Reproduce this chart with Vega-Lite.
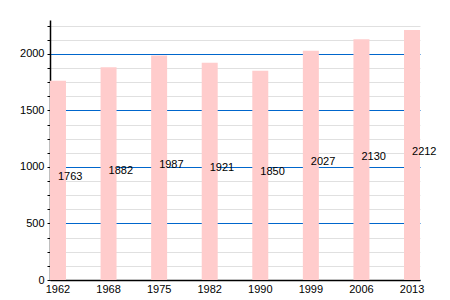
{
  "$schema": "https://vega.github.io/schema/vega-lite/v6.json",
  "autosize": "none",
  "width": 370,
  "height": 260,
  "padding": {"left": 50, "top": 20, "right": 30, "bottom": 20},
  "background": "white",
  "config": {
    "view": {"stroke": null},
    "font": "Liberation Sans",
    "axis": {"labelFont": "Liberation Sans", "labelFontSize": 11, "labelColor": "#000000", "domainColor": "#000000", "tickColor": "#000000"}
  },
  "data": {
    "values": [
      {"year": "1962", "value": 1763},
      {"year": "1968", "value": 1882},
      {"year": "1975", "value": 1987},
      {"year": "1982", "value": 1921},
      {"year": "1990", "value": 1850},
      {"year": "1999", "value": 2027},
      {"year": "2006", "value": 2130},
      {"year": "2013", "value": 2212}
    ]
  },
  "layer": [
    {
      "mark": {"type": "bar", "color": "#ffcccc"},
      "encoding": {
        "x": {
          "field": "year", "type": "ordinal",
          "scale": {"paddingInner": 0.684, "paddingOuter": 0, "align": 0},
          "axis": {"title": null, "labelAngle": 0, "ticks": false, "labelPadding": 3, "grid": false, "domainWidth": 1.5}
        },
        "y": {
          "field": "value", "type": "quantitative",
          "scale": {"domain": [0, 2300], "nice": false},
          "axis": {
            "title": null,
            "format": "d",
            "values": [0,125,250,375,500,625,750,875,1000,1125,1250,1375,1500,1625,1750,1875,2000,2125,2250],
            "labelExpr": "datum.value % 500 === 0 ? datum.label : ''",
            "grid": true,
            "gridColor": {"condition": {"test": "datum.value % 500 === 0", "value": "#0066cc"}, "value": "#e0e0e0"},
            "gridWidth": 1,
            "tickSize": 3,
            "labelPadding": 3,
            "domainWidth": 1.5,
            "labelFlush": false
          }
        }
      }
    },
    {
      "mark": {"type": "text", "align": "left", "baseline": "alphabetic", "fontSize": 11, "color": "#000000"},
      "encoding": {
        "x": {"field": "year", "type": "ordinal"},
        "y": {"field": "value", "type": "quantitative", "scale": {"domain": [0, 4600], "nice": false}, "axis": null},
        "text": {"field": "value", "type": "quantitative", "format": "d"}
      }
    }
  ],
  "resolve": {"scale": {"y": "independent"}}
}
